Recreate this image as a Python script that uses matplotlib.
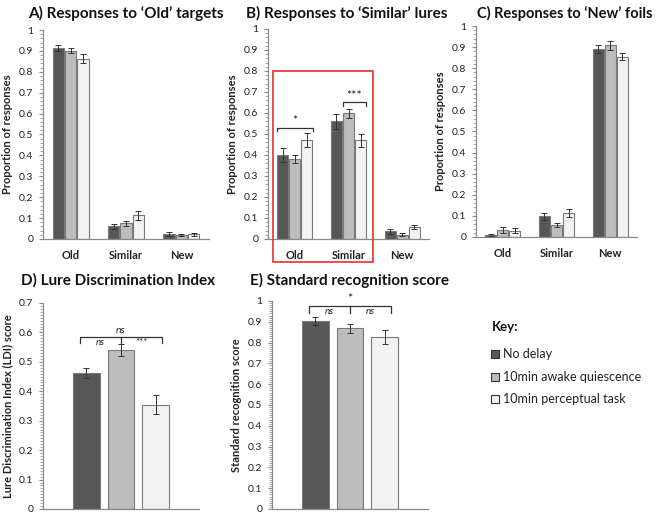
import matplotlib
matplotlib.use("Agg")
import matplotlib.pyplot as plt
from matplotlib.patches import Rectangle
from matplotlib.ticker import MultipleLocator

plt.rcParams['font.family'] = ['Lato', 'DejaVu Sans']

W, H = 660, 515

conditions = ["No delay", "10min awake quiescence", "10min perceptual task"]
categories = ["Old", "Similar", "New"]
colors = ["#575757", "#bdbdbd", "#f2f2f2"]
edge = "#7a7a7a"

# Panel A: responses to 'Old' targets (rows = conditions, cols = categories)
a_vals = [[0.915, 0.060, 0.023], [0.900, 0.075, 0.020], [0.862, 0.113, 0.023]]
a_err = [[0.015, 0.013, 0.009], [0.012, 0.013, 0.005], [0.022, 0.020, 0.008]]
# Panel B: responses to 'Similar' lures
b_vals = [[0.400, 0.560, 0.037], [0.380, 0.598, 0.020], [0.470, 0.470, 0.058]]
b_err = [[0.033, 0.037, 0.012], [0.018, 0.020, 0.008], [0.033, 0.030, 0.010]]
# Panel C: responses to 'New' foils
c_vals = [[0.010, 0.098, 0.890], [0.033, 0.057, 0.908], [0.030, 0.113, 0.855]]
c_err = [[0.003, 0.018, 0.020], [0.013, 0.010, 0.020], [0.012, 0.020, 0.018]]
# Panel D: LDI
d_vals = [0.462, 0.540, 0.355]
d_err = [0.018, 0.020, 0.032]
# Panel E: standard recognition
e_vals = [0.905, 0.868, 0.828]
e_err = [0.018, 0.020, 0.033]

fig = plt.figure(figsize=(W / 100, H / 100), dpi=100)


def px_axes(left, right, top, bottom):
    return fig.add_axes([left / W, 1 - bottom / H, (right - left) / W, (bottom - top) / H])


def style_axes(ax, ymax, major, minor, ylabel):
    ax.set_ylim(0, ymax)
    ax.yaxis.set_major_locator(MultipleLocator(major))
    ax.yaxis.set_minor_locator(MultipleLocator(minor))
    for s in ["top", "right"]:
        ax.spines[s].set_visible(False)
    for s in ["left", "bottom"]:
        ax.spines[s].set_color("#8a8a8a")
        ax.spines[s].set_linewidth(0.9)
    ax.tick_params(axis="y", which="major", length=3, color="#8a8a8a", labelsize=7.5, pad=4,
                   labelcolor="#222222")
    ax.tick_params(axis="y", which="minor", length=2, color="#9a9a9a")
    ax.set_ylabel(ylabel, fontsize=8, fontweight="bold", color="#222222", labelpad=4)
    ax.yaxis.set_major_formatter(plt.FuncFormatter(lambda v, p: f"{v:g}"))


def grouped(ax, vals, errs, ylabel):
    offs = [-0.225, 0.0, 0.225]
    for i in range(3):
        xs = [j + offs[i] for j in range(3)]
        ax.bar(xs, vals[i], width=0.205, color=colors[i], edgecolor=edge, linewidth=0.8, zorder=2)
        ax.errorbar(xs, vals[i], yerr=errs[i], fmt="none", ecolor="#333333", elinewidth=0.7,
                    capsize=2, capthick=0.7, zorder=3)
    ax.set_xlim(-0.5, 2.5)
    ax.set_xticks(range(3))
    ax.set_xticklabels(categories, fontsize=8, fontweight="bold", color="#222222")
    ax.tick_params(axis="x", length=0, pad=8)
    style_axes(ax, 1.0, 0.1, 0.02, ylabel)


axA = px_axes(43, 209, 30, 239)
grouped(axA, a_vals, a_err, "Proportion of responses")
axB = px_axes(268, 429, 29, 239)
grouped(axB, b_vals, b_err, "Proportion of responses")
axC = px_axes(476, 637, 26, 237)
grouped(axC, c_vals, c_err, "Proportion of responses")


def bracket(ax, x0, x1, y, drop, label, fs=9):
    ax.plot([x0, x0, x1, x1], [y - drop, y, y, y - drop], color="#333333", lw=0.9, zorder=4)
    ax.text((x0 + x1) / 2, y + 0.003, label, ha="center", va="bottom", fontsize=fs, color="#222222")


bracket(axB, -0.33, 0.33, 0.53, 0.018, "*")
bracket(axB, 0.89, 1.33, 0.65, 0.018, "***")


def single(ax, vals, errs, ymax, minor, ylabel):
    xs = list(range(3))
    ax.bar(xs, vals, width=0.76, color=colors, edgecolor=edge, linewidth=0.8, zorder=2)
    ax.errorbar(xs, vals, yerr=errs, fmt="none", ecolor="#333333", elinewidth=0.7,
                capsize=2.5, capthick=0.7, zorder=3)
    ax.set_xlim(-1.26, 3.26)
    ax.set_xticks([])
    style_axes(ax, ymax, 0.1, minor, ylabel)


axD = px_axes(43, 199, 303, 509)
single(axD, d_vals, d_err, 0.7, 0.01, "Lure Discrimination Index (LDI) score")
axE = px_axes(272, 428, 301, 509)
single(axE, e_vals, e_err, 1.0, 0.01, "Standard recognition score")


def three_bracket(ax, xl, xm, xr, y, drop, top_label, left_label, right_label):
    ax.plot([xl, xl, xr, xr], [y - drop, y, y, y - drop], color="#333333", lw=0.9, zorder=4,
            clip_on=False)
    ax.plot([xm, xm], [y, y - drop], color="#333333", lw=0.9, zorder=4, clip_on=False)
    ax.text(xm, y + 0.006, top_label, ha="center", va="bottom",
            fontsize=7.5 if top_label == "ns" else 9,
            style="italic" if top_label == "ns" else "normal", color="#222222", clip_on=False)
    for lab, xx in [(left_label, (xl + xm) / 2), (right_label, (xm + xr) / 2)]:
        ax.text(xx, y - 0.004, lab, ha="center", va="top", fontsize=7,
                style="italic" if lab == "ns" else "normal", color="#222222", clip_on=False)


three_bracket(axD, -0.2, 1.0, 2.2, 0.585, 0.02, "ns", "ns", "***")
three_bracket(axE, -0.2, 1.0, 2.2, 0.974, 0.03, "*", "ns", "ns")

# Titles
title_kw = dict(fontsize=11, fontweight="bold", ha="center", va="center", color="#111111")
fig.text(126 / W, 1 - 13 / H, "A) Responses to \u2018Old\u2019 targets", **title_kw)
fig.text(347 / W, 1 - 13 / H, "B) Responses to \u2018Similar\u2019 lures", **title_kw)
fig.text(565 / W, 1 - 13 / H, "C) Responses to \u2018New\u2019 foils", fontsize=10.5,
         fontweight="bold", ha="center", va="center", color="#111111")
fig.text(118 / W, 1 - 280 / H, "D) Lure Discrimination Index", **title_kw)
fig.text(350 / W, 1 - 280 / H, "E) Standard recognition score", **title_kw)

# Red highlight box
fig.add_artist(Rectangle((273 / W, 1 - 262 / H), (373 - 273) / W, (262 - 71) / H,
                         transform=fig.transFigure, fill=False, edgecolor="#e8403f", lw=1.3))

# Key
fig.text(492 / W, 1 - 327 / H, "Key:", fontsize=9.5, fontweight="bold", ha="left", va="center",
         color="#111111")
for i, (lab, yy) in enumerate(zip(conditions, [354, 377, 399])):
    fig.add_artist(Rectangle((491 / W, 1 - (yy + 4) / H), 8 / W, 8 / H, transform=fig.transFigure,
                             facecolor=colors[i], edgecolor="#333333", lw=0.8))
    fig.text(503 / W, 1 - yy / H, lab, fontsize=9, ha="left", va="center", color="#222222")

fig.savefig("out.png", dpi=100)
